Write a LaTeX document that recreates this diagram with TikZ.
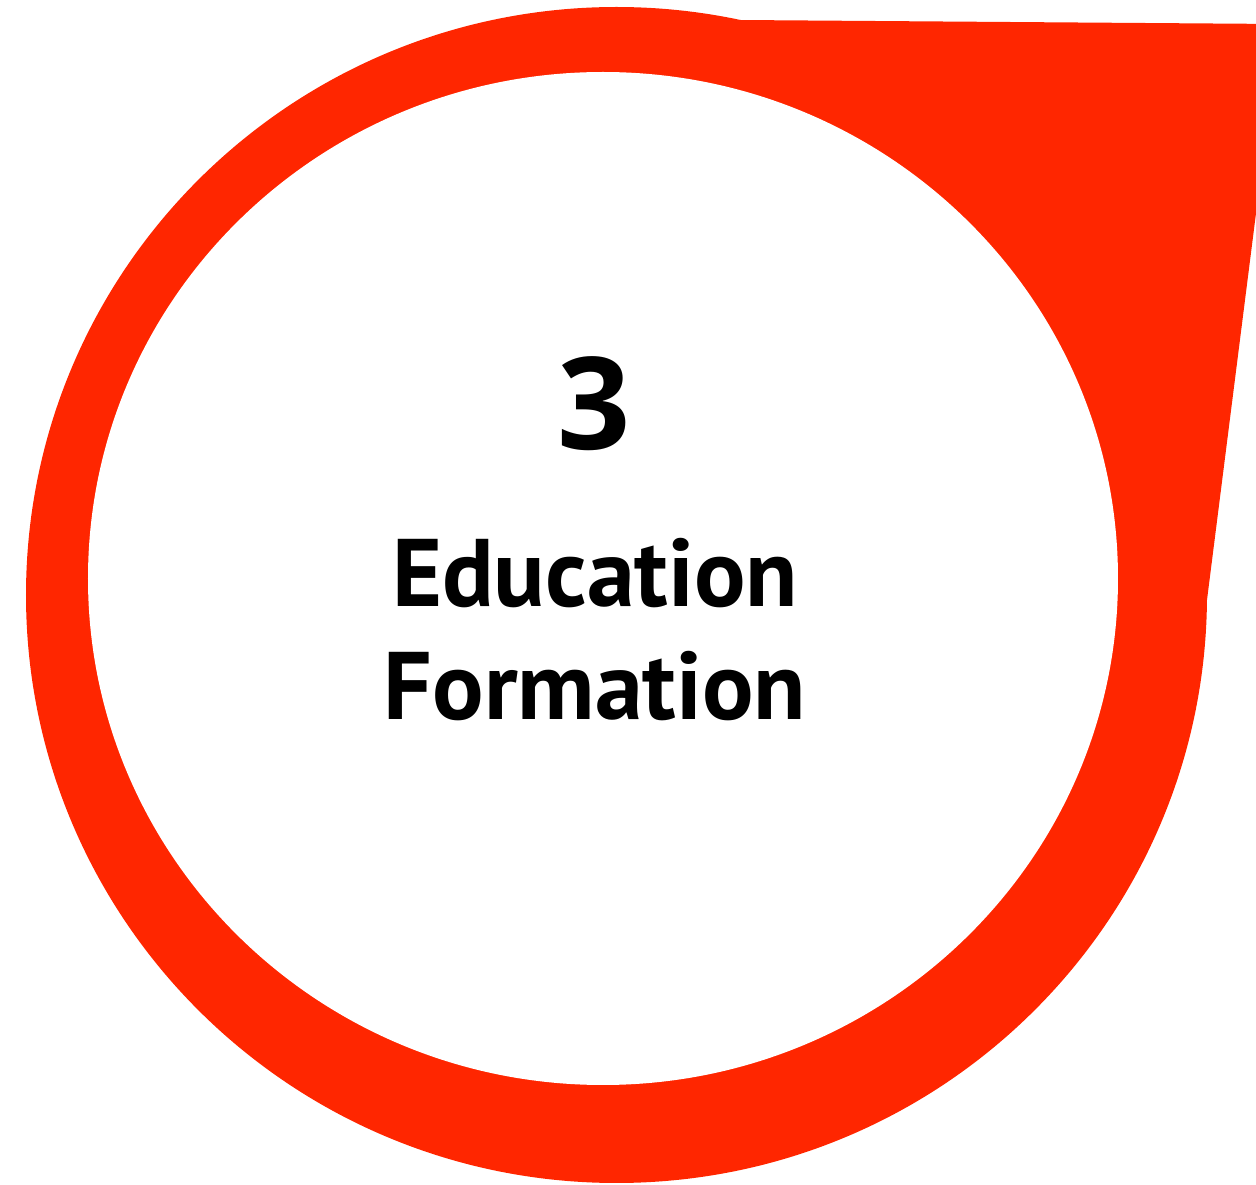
\documentclass[tikz,border=0pt]{standalone}
\usepackage{fontspec}
\setmainfont{PT Sans}
\newfontfamily\numfont{Open Sans}
\definecolor{bubblered}{HTML}{FF2600}
\begin{document}
\begin{tikzpicture}[x=0.01cm,y=-0.01cm]
\tikzset{
  bubble/.style={fill=bubblered, draw=none},
  hole/.style={fill=white, draw=none},
  numtxt/.style={font=\numfont\bfseries\fontsize{36.5pt}{40pt}\selectfont, anchor=base, inner sep=0pt},
  labtxt/.style={font=\bfseries\fontsize{27.3pt}{30pt}\selectfont, anchor=base, inner sep=0pt}
}
\useasboundingbox (0,0) rectangle (1256,1185);
\begin{scope}
\clip (0,0) rectangle (1256,1185);
\fill[bubble] (616.5,595) ellipse [x radius=590.5, y radius=588];
\fill[bubble] (740,20) -- (1280,24) -- (1207,600) -- (616.5,595) -- cycle;
\fill[hole] (603,578.5) ellipse [x radius=515, y radius=506.5];
\end{scope}
\node[numtxt] (num) at (594,450) {3};
\node[labtxt] (l1) at (595,607) {Education};
\node[labtxt] (l2) at (595,720) {Formation};
\end{tikzpicture}
\end{document}
